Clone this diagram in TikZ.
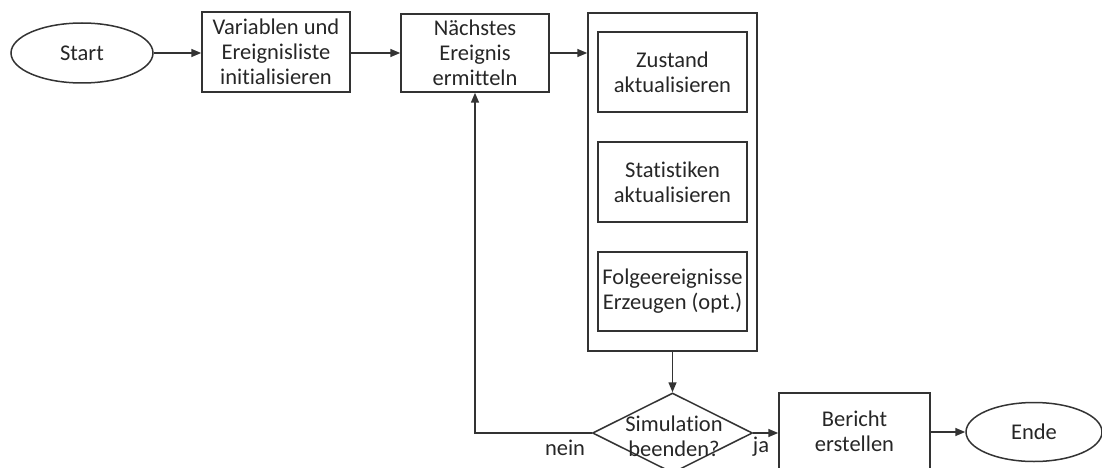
\documentclass[tikz,border=0pt]{standalone}
\usepackage{fontspec}
\setmainfont[Ligatures={NoCommon}]{Carlito}
\usetikzlibrary{shapes.geometric,arrows.meta}
\begin{document}
\begin{tikzpicture}[x=1pt,y=-1pt,
  every node/.style={font=\fontsize{22.5}{25}\selectfont, text=black!85, align=center, inner sep=0pt},
  shapeline/.style={draw=black!80, line width=1.5pt},
  term/.style={shapeline, ellipse},
  proc/.style={shapeline, rectangle},
  decision/.style={shapeline, diamond, aspect=2},
  flow/.style={draw=black!80, line width=1.5pt, -{Triangle[length=10pt,width=8pt]}},
  lbl/.style={font=\fontsize{22.5}{25}\selectfont}]
  \useasboundingbox (0,0) rectangle (1102,468);
  \clip (0,0) rectangle (1102,468);

  % main chain
  \node[term, minimum width=142, minimum height=60] (start) at (82,53) {Start};
  \node[proc, minimum width=148, minimum height=80] (init) at (276,52) {Variablen und\\Ereignisliste\\initialisieren};
  \node[proc, minimum width=148, minimum height=78] (next) at (475,53) {Nächstes\\Ereignis\\ermitteln};

  % event routine container
  \node[proc, minimum width=169, minimum height=338] (routine) at (672.5,182) {};
  \node[proc, minimum width=149, minimum height=80] (state) at (672.5,72) {Zustand\\aktualisieren};
  \node[proc, minimum width=149, minimum height=80] (stats) at (672.5,182) {Statistiken\\aktualisieren};
  \node[proc, minimum width=149, minimum height=79] (follow) at (672.5,291.5) {Folgeereignisse\\Erzeugen (opt.)};

  % end of simulation
  \node[decision, minimum width=160, minimum height=80] (stop) at (672.5,433) {};
  \node at (674,436) {Simulation\\beenden?};
  \node[proc, minimum width=151, minimum height=76] (report) at (854.5,431) {Bericht\\erstellen};
  \node[term, minimum width=136, minimum height=59] (finish) at (1034,432) {Ende};

  \node[lbl] (no) at (565,448) {nein};
  \node[lbl] (yes) at (761,447) {ja};

  % connectors
  \draw[flow] (start.east) -- (init.west |- start.east);
  \draw[flow] (init.east |- next.west) -- (next.west);
  \draw[flow] (next.east) -- (routine.west |- next.east);
  \draw[flow] (routine.south) -- (stop.north);
  \draw[flow] (stop.west) -| (next.south);
  \draw[flow] (stop.east) -- (report.west |- stop.east);
  \draw[flow] (report.east |- finish.west) -- (finish.west);
\end{tikzpicture}
\end{document}
